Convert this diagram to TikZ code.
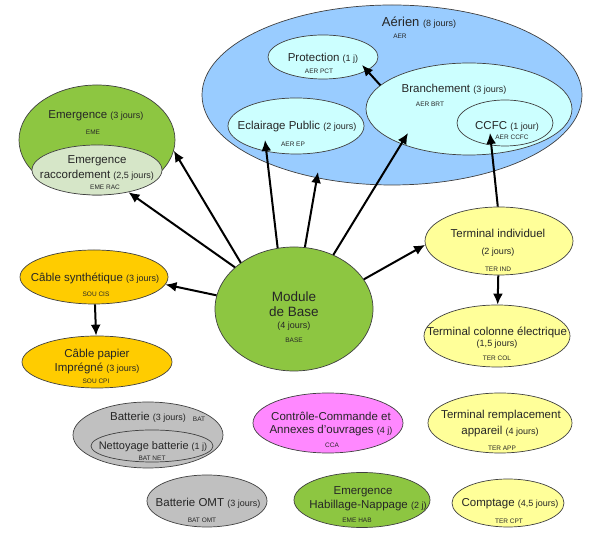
\documentclass[tikz,border=0pt]{standalone}
\usepackage{fontspec}
\setmainfont{Liberation Sans}
\usetikzlibrary{shapes.geometric,arrows.meta}

\definecolor{aerblue}{HTML}{99CCFF}
\definecolor{aerlight}{HTML}{CCFFFF}
\definecolor{emegreen}{HTML}{8DC641}
\definecolor{racgreen}{HTML}{D6E6C8}
\definecolor{cabgold}{HTML}{FFCC00}
\definecolor{teryellow}{HTML}{FFFF99}
\definecolor{batgrey}{HTML}{C0C0C0}
\definecolor{ccapink}{HTML}{FF88FF}

\tikzset{
  zone/.style={ellipse, draw=black!75, line width=0.7pt, inner sep=0pt},
  txt/.style={inner sep=0pt, text=black!85, font=\fontsize{11.5}{13}\selectfont},
  bigtxt/.style={txt, font=\fontsize{13.5}{15}\selectfont},
  code/.style={inner sep=0pt, text=black!85, font=\fontsize{6.5}{8}\selectfont},
  link/.style={->, line width=2pt},
}
\newcommand{\jr}[1]{{\fontsize{9}{11}\selectfont #1}}

\begin{document}
\begin{tikzpicture}[x=1pt, y=1pt, >={Latex[length=11pt,width=10pt]}]
  \useasboundingbox (0,0) rectangle (605,543);

  % Aerien
  \node[zone, fill=aerblue, minimum width=380pt, minimum height=180pt] (aer) at (392,448) {};
  \node[zone, fill=aerlight, minimum width=110pt, minimum height=44pt] (pct) at (323,486) {};
  \node[zone, fill=aerlight, minimum width=206pt, minimum height=92pt] (brt) at (469,434) {};
  \node[zone, fill=aerlight, minimum width=96pt, minimum height=46pt] (ccfc) at (505,420) {};
  \node[zone, fill=aerlight, minimum width=136pt, minimum height=56pt] (ecl) at (296,417) {};

  \node[txt, font=\fontsize{13}{15}\selectfont] (aer-t) at (419,520) {Aérien \jr{(8 jours)}};
  \node[code] (aer-c) at (400,507) {AER};
  \node[txt] (pct-t) at (323,485) {Protection \jr{(1 j)}};
  \node[code] (pct-c) at (319,472) {AER PCT};
  \node[txt] (brt-t) at (454,454) {Branchement \jr{(3 jours)}};
  \node[code] (brt-c) at (430,439) {AER BRT};
  \node[txt] (ccfc-t) at (507,417) {CCFC \jr{(1 jour)}};
  \node[code] (ccfc-c) at (512,406) {AER CCFC};
  \node[txt] (ecl-t) at (297,416) {Eclairage Public \jr{(2 jours)}};
  \node[code] (ecl-c) at (293,399) {AER EP};

  % Emergence
  \node[zone, fill=emegreen, minimum width=156pt, minimum height=110pt] (eme) at (97,403) {};
  \node[zone, fill=racgreen, minimum width=130pt, minimum height=50pt] (racc) at (97,373) {};
  \node[txt] (eme-t) at (96,427) {Emergence \jr{(3 jours)}};
  \node[code] (eme-c) at (93,411) {EME};
  \node[txt] (racc-t) at (97,382) {Emergence};
  \node[txt] (racc-t2) at (97,368) {raccordement \jr{(2,5 jours)}};
  \node[code] (racc-c) at (105,356) {EME RAC};

  % Cables
  \node[zone, fill=cabgold, minimum width=148pt, minimum height=54pt] (cis) at (94,266) {};
  \node[txt] (cis-t) at (95,265) {Câble synthétique \jr{(3 jours)}};
  \node[code] (cis-c) at (96,249) {SOU CIS};
  \node[zone, fill=cabgold, minimum width=150pt, minimum height=52pt] (cpi) at (97,181) {};
  \node[txt] (cpi-t) at (97,188) {Câble papier};
  \node[txt] (cpi-t2) at (97,175) {Imprégné \jr{(3 jours)}};
  \node[code] (cpi-c) at (96,162) {SOU CPI};

  % Module de base
  \node[zone, fill=emegreen, minimum width=158pt, minimum height=124pt] (base) at (294,234) {};
  \node[bigtxt] (base-t) at (294,246) {Module};
  \node[bigtxt] (base-t2) at (294,231) {de Base};
  \node[txt] (base-j) at (294,217) {\jr{(4 jours)}};
  \node[code] (base-c) at (294,203) {BASE};

  % Terminaux
  \node[zone, fill=teryellow, minimum width=148pt, minimum height=68pt] (ind) at (499,302) {};
  \node[txt] (ind-t) at (498,310) {Terminal individuel};
  \node[txt] (ind-j) at (498,291) {\jr{(2 jours)}};
  \node[code] (ind-c) at (498,274) {TER IND};
  \node[zone, fill=teryellow, minimum width=146pt, minimum height=62pt] (col) at (497,207) {};
  \node[txt] (col-t) at (497,211) {Terminal colonne électrique};
  \node[txt] (col-j) at (497,199) {\jr{(1,5 jours)}};
  \node[code] (col-c) at (497,185) {TER COL};

  % modules isoles
  \node[zone, fill=batgrey, minimum width=150pt, minimum height=66pt] (bat) at (148,108) {};
  \node[zone, fill=batgrey, minimum width=122pt, minimum height=32pt] (net) at (152,97) {};
  \node[txt] (bat-t) at (148,126) {Batterie \jr{(3 jours)}};
  \node[code] (bat-c) at (199,124) {BAT};
  \node[txt, font=\fontsize{11}{13}\selectfont] (net-t) at (153,96) {Nettoyage batterie \jr{(1 j)}};
  \node[code] (net-c) at (152,85) {BAT NET};

  \node[zone, fill=batgrey, minimum width=120pt, minimum height=52pt] (omt) at (207,42) {};
  \node[txt] (omt-t) at (208,40) {Batterie OMT \jr{(3 jours)}};
  \node[code] (omt-c) at (202,23) {BAT OMT};

  \node[zone, fill=ccapink, minimum width=150pt, minimum height=60pt] (cca) at (328,120) {};
  \node[txt] (cca-t) at (331,127) {Contrôle-Commande et};
  \node[txt] (cca-t2) at (331,112) {Annexes d'ouvrages \jr{(4 j)}};
  \node[code] (cca-c) at (332,98) {CCA};

  \node[zone, fill=emegreen, minimum width=136pt, minimum height=55pt] (hab) at (362,43) {};
  \node[txt] (hab-t) at (363,51) {Emergence};
  \node[txt] (hab-t2) at (368,37) {Habillage-Nappage \jr{(2 j)}};
  \node[code] (hab-c) at (357,23) {EME HAB};

  \node[zone, fill=teryellow, minimum width=144pt, minimum height=60pt] (app) at (500,120) {};
  \node[txt] (app-t) at (501,127) {Terminal remplacement};
  \node[txt] (app-t2) at (500,111) {appareil \jr{(4 jours)}};
  \node[code] (app-c) at (502,95) {TER APP};

  \node[zone, fill=teryellow, minimum width=112pt, minimum height=48pt] (cpt) at (508,40) {};
  \node[txt] (cpt-t) at (510,39) {Comptage \jr{(4,5 jours)}};
  \node[code] (cpt-c) at (509,22) {TER CPT};

  % liens
  \draw[link] (base) -- (racc);
  \draw[link] (base.139) -- (eme.-8);
  \draw[link] (base.105) -- ([xshift=-31pt,yshift=-14pt]ecl.center);
  \draw[link] (base.80) -- ([xshift=-74pt,yshift=-77pt]aer.center);
  \draw[link] (base.54) -- ([xshift=-61pt,yshift=-24pt]brt.center);
  \draw[link] (base.23) -- (ind.183);
  \draw[link] (base.170) -- (cis.-6);
  \draw[link] (cis) -- (cpi);
  \draw[link] (brt.165) -- ([xshift=39pt,yshift=-8pt]pct.center);
  \draw[link] (ind.92) -- ([xshift=-15pt,yshift=-10pt]ccfc.center);
  \draw[link] (ind) -- (col);
\end{tikzpicture}
\end{document}
